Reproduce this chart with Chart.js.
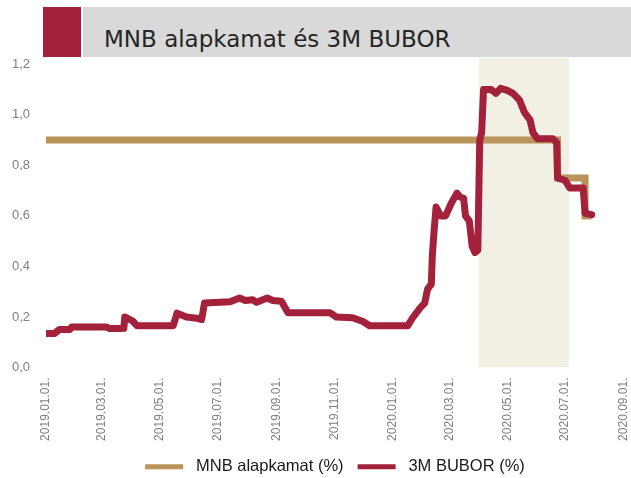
<!DOCTYPE html>
<html>
<head>
<meta charset="utf-8">
<script src="https://cdn.jsdelivr.net/npm/chart.js@4.4.1/dist/chart.umd.min.js"></script>
<style>
  html, body { margin: 0; padding: 0; background: #fff; overflow: hidden; }
  body { width: 631px; height: 478px; position: relative; }
  #wrap { position: absolute; left: 0; top: 0; width: 631px; height: 485px; }
  .red { position: absolute; left: 43px; top: 7px; width: 38px; height: 50px; background: #a3213a; }
  .band { position: absolute; left: 83px; top: 7px; width: 548px; height: 50px; background: #d9d9d9; }
  .title { position: absolute; left: 104px; top: 26px; font: 23px/27px "DejaVu Sans", sans-serif; color: #262626; white-space: nowrap; }
</style>
</head>
<body>
<div id="wrap"><canvas id="chart"></canvas></div>
<div class="red"></div>
<div class="band"></div>
<div class="title">MNB alapkamat és 3M BUBOR</div>
<script>
// tick labels on the date axis
const tickLabels = ['2019.01.01.', '2019.03.01.', '2019.05.01.', '2019.07.01.', '2019.09.01.', '2019.11.01.',
  '2020.01.01.', '2020.03.01.', '2020.05.01.', '2020.07.01.', '2020.09.01.'];
const yTicks = [0, 0.2, 0.4, 0.6, 0.8, 1.0, 1.2];
const yMax = 1.225;

// 3M BUBOR (%)
const bubDates = ['2019-01-01', '2019-01-10', '2019-01-15', '2019-01-26', '2019-01-28', '2019-03-06', '2019-03-09',
  '2019-03-20', '2019-03-24', '2019-03-25', '2019-04-02', '2019-04-07', '2019-05-15', '2019-05-19', '2019-05-29',
  '2019-06-09', '2019-06-14', '2019-06-17', '2019-07-14', '2019-07-24', '2019-07-30', '2019-08-07', '2019-08-11',
  '2019-08-22', '2019-08-28', '2019-09-06', '2019-09-13', '2019-10-27', '2019-11-03', '2019-11-20', '2019-12-01',
  '2019-12-08', '2020-01-17', '2020-01-22', '2020-01-30', '2020-02-04', '2020-02-07', '2020-02-11', '2020-02-12',
  '2020-02-14', '2020-02-16', '2020-02-21', '2020-02-26', '2020-03-03', '2020-03-09', '2020-03-12', '2020-03-16',
  '2020-03-18', '2020-03-22', '2020-03-25', '2020-03-28', '2020-03-31', '2020-04-02', '2020-04-04', '2020-04-06',
  '2020-04-14', '2020-04-19', '2020-04-24', '2020-05-01', '2020-05-07', '2020-05-14', '2020-05-19', '2020-05-25',
  '2020-05-28', '2020-06-02', '2020-06-18', '2020-06-22', '2020-06-23', '2020-07-01', '2020-07-06', '2020-07-20',
  '2020-07-22', '2020-07-29'];
const bubValues = [0.135, 0.135, 0.15, 0.15, 0.16, 0.16, 0.154,
  0.154, 0.155, 0.2, 0.185, 0.165, 0.165, 0.215, 0.2,
  0.195, 0.19, 0.255, 0.26, 0.275, 0.265, 0.268, 0.258,
  0.275, 0.265, 0.262, 0.217, 0.217, 0.2, 0.197, 0.182,
  0.165, 0.165, 0.195, 0.235, 0.255, 0.31, 0.33, 0.44,
  0.545, 0.635, 0.6, 0.6, 0.65, 0.69, 0.675, 0.67,
  0.6, 0.58, 0.48, 0.455, 0.465, 0.9, 0.93, 1.1,
  1.1, 1.085, 1.105, 1.097, 1.085, 1.058, 1.01, 0.98,
  0.93, 0.905, 0.905, 0.89, 0.75, 0.74, 0.71, 0.71,
  0.61, 0.605];

// MNB alapkamat (%)
const mnbDates = ['2019-01-01', '2020-06-23', '2020-07-22', '2020-07-29'];
const mnbValues = [0.9, 0.75, 0.6, 0.6];

// shaded period
const shadeDates = ['2020-04-01', '2020-07-05'];

const T0 = Date.UTC(2019, 0, 1);
function dayOf(s) {
  const p = s.split(/[-.]/).filter(Boolean).map(Number);
  return (Date.UTC(p[0], p[1] - 1, p[2]) - T0) / 86400000;
}
const tickDays = tickLabels.map(dayOf);

const ctx = document.getElementById('chart').getContext('2d');
new Chart(ctx, {
  type: 'line',
  data: {
    datasets: [
      {
        label: 'shade',
        data: shadeDates.map(d => ({ x: dayOf(d), y: yMax })),
        fill: 'origin',
        backgroundColor: '#f2efe4',
        borderWidth: 0,
        pointRadius: 0,
        order: 3,
      },
      {
        label: 'MNB alapkamat (%)',
        data: mnbDates.map((d, i) => ({ x: dayOf(d), y: mnbValues[i] })),
        stepped: true,
        borderColor: '#b9935a',
        backgroundColor: '#b9935a',
        borderWidth: 7,
        pointRadius: 0,
        order: 2,
      },
      {
        label: '3M BUBOR (%)',
        data: bubDates.map((d, i) => ({ x: dayOf(d), y: bubValues[i] })),
        borderColor: '#a3213a',
        backgroundColor: '#a3213a',
        borderWidth: 7,
        borderJoinStyle: 'round',
        borderCapStyle: 'round',
        pointRadius: 0,
        order: 1,
      },
    ],
  },
  options: {
    responsive: true,
    maintainAspectRatio: false,
    animation: false,
    layout: { padding: { left: 8, right: 7, top: 58, bottom: 0 } },
    scales: {
      x: {
        type: 'linear',
        min: 0,
        max: tickDays[tickDays.length - 1],
        grid: { display: false, drawTicks: false },
        border: { display: false },
        afterBuildTicks: s => { s.ticks = tickDays.map(v => ({ value: v })); },
        afterFit: s => { s.height = 77; s.paddingLeft = 0; s.paddingRight = 0; },
        ticks: {
          autoSkip: false,
          minRotation: 90,
          maxRotation: 90,
          padding: 10,
          color: '#7f7f7f',
          font: { family: '"Liberation Sans"', size: 12 },
          callback: (v, i) => tickLabels[i],
        },
      },
      y: {
        min: 0,
        max: yMax,
        grid: { display: false, drawTicks: false },
        border: { display: false },
        afterBuildTicks: s => { s.ticks = yTicks.map(v => ({ value: v })); },
        afterFit: s => { s.width = 38; s.paddingTop = 0; s.paddingBottom = 0; },
        ticks: {
          padding: 16,
          color: '#7f7f7f',
          font: { family: '"Liberation Sans"', size: 13 },
          callback: v => v.toFixed(1).replace('.', ','),
        },
      },
    },
    plugins: {
      legend: {
        position: 'bottom',
        fullSize: false,
        labels: {
          boxWidth: 38,
          boxHeight: 5,
          padding: 14,
          color: '#1a1a1a',
          font: { family: '"Liberation Sans"', size: 16.5 },
          filter: item => item.datasetIndex !== 0,
          sort: (a, b) => a.datasetIndex - b.datasetIndex,
          generateLabels: chart => Chart.defaults.plugins.legend.labels.generateLabels(chart).map(l => {
            l.text = ' ' + l.text;
            l.lineWidth = 0;
            return l;
          }),
        },
      },
      tooltip: { enabled: false },
    },
  },
});
</script>
</body>
</html>
